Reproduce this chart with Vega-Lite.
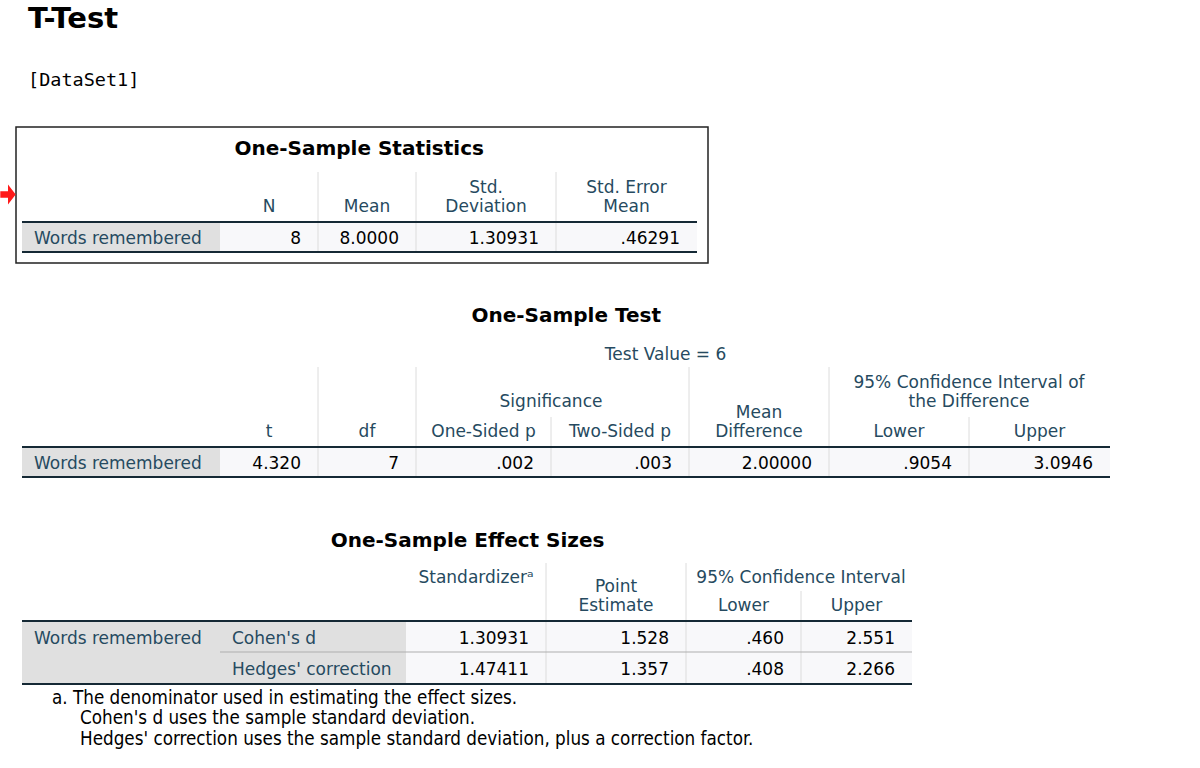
{
  "$schema": "https://vega.github.io/schema/vega-lite/v6.json",
  "width": 1200,
  "height": 768,
  "padding": 0,
  "autosize": {"type": "none"},
  "background": "#ffffff",
  "config": {"view": {"stroke": null}},
  "datasets": {
    "t1": [
      {"kind": "bgGray", "c": 0, "c2": 1, "r": 3, "r2": 4},
      {"kind": "bgLight", "c": 1, "c2": 5, "r": 3, "r2": 4},
      {"kind": "vsep", "c": 2, "r": 2, "r2": 4},
      {"kind": "vsep", "c": 3, "r": 2, "r2": 4},
      {"kind": "vsep", "c": 4, "r": 2, "r2": 4},
      {"kind": "hrule", "c": 0, "c2": 5, "r": 3},
      {"kind": "hrule", "c": 0, "c2": 5, "r": 4},
      {"kind": "box", "c": -1, "c2": 6, "r": 0, "r2": 5},
      {"kind": "arrow", "c": -1.5, "r": 2.45},
      {"kind": "pageTitle", "c": -1, "r": -2, "label": "T-Test"},
      {"kind": "dataset", "c": -1, "r": -1, "label": "[DataSet1]"},
      {"kind": "title", "c": 2.42, "r": 1, "label": "One-Sample Statistics"},
      {"kind": "hdr", "c": 1.5, "r": 3, "label": "N"},
      {"kind": "hdr", "c": 2.5, "r": 3, "label": "Mean"},
      {"kind": "hdr2", "c": 3.5, "r": 3, "label": "Std.\nDeviation"},
      {"kind": "hdr2", "c": 4.5, "r": 3, "label": "Std. Error\nMean"},
      {"kind": "rowh", "c": 0, "r": 3.5, "label": "Words remembered"},
      {"kind": "val", "c": 2, "r": 3.5, "label": "8"},
      {"kind": "val", "c": 3, "r": 3.5, "label": "8.0000"},
      {"kind": "val", "c": 4, "r": 3.5, "label": "1.30931"},
      {"kind": "val", "c": 5, "r": 3.5, "label": ".46291"}
    ],
    "t2": [
      {"kind": "bgGray", "c": 0, "c2": 1, "r": 4, "r2": 5},
      {"kind": "bgLight", "c": 1, "c2": 8, "r": 4, "r2": 5},
      {"kind": "vsep", "c": 2, "r": 2, "r2": 5},
      {"kind": "vsep", "c": 3, "r": 2, "r2": 5},
      {"kind": "vsep", "c": 4, "r": 3, "r2": 5},
      {"kind": "vsep", "c": 5, "r": 2, "r2": 5},
      {"kind": "vsep", "c": 6, "r": 2, "r2": 5},
      {"kind": "vsep", "c": 7, "r": 3, "r2": 5},
      {"kind": "hrule", "c": 0, "c2": 8, "r": 4},
      {"kind": "hrule", "c": 0, "c2": 8, "r": 5},
      {"kind": "title", "c": 4.11, "r": 0, "label": "One-Sample Test"},
      {"kind": "hdrMid", "c": 4.83, "r": 1, "label": "Test Value = 6"},
      {"kind": "hdr", "c": 1.5, "r": 4, "label": "t"},
      {"kind": "hdr", "c": 2.5, "r": 4, "label": "df"},
      {"kind": "hdr", "c": 3.5, "r": 4, "label": "One-Sided p"},
      {"kind": "hdr", "c": 4.5, "r": 4, "label": "Two-Sided p"},
      {"kind": "hdr2", "c": 5.5, "r": 4, "label": "Mean\nDifference"},
      {"kind": "hdr", "c": 6.5, "r": 4, "label": "Lower"},
      {"kind": "hdr", "c": 7.5, "r": 4, "label": "Upper"},
      {"kind": "hdr", "c": 4, "r": 3, "label": "Significance"},
      {"kind": "hdr2", "c": 7, "r": 3, "label": "95% Confidence Interval of\nthe Difference"},
      {"kind": "rowh", "c": 0, "r": 4.5, "label": "Words remembered"},
      {"kind": "val", "c": 2, "r": 4.5, "label": "4.320"},
      {"kind": "val", "c": 3, "r": 4.5, "label": "7"},
      {"kind": "val", "c": 4, "r": 4.5, "label": ".002"},
      {"kind": "val", "c": 5, "r": 4.5, "label": ".003"},
      {"kind": "val", "c": 6, "r": 4.5, "label": "2.00000"},
      {"kind": "val", "c": 7, "r": 4.5, "label": ".9054"},
      {"kind": "val", "c": 8, "r": 4.5, "label": "3.0946"}
    ],
    "t3": [
      {"kind": "bgGray", "c": 0, "c2": 2, "r": 3, "r2": 5},
      {"kind": "bgLight", "c": 2, "c2": 6, "r": 3, "r2": 5},
      {"kind": "vsep", "c": 3, "r": 1, "r2": 5},
      {"kind": "vsep", "c": 4, "r": 1, "r2": 5},
      {"kind": "vsep", "c": 5, "r": 2, "r2": 5},
      {"kind": "hlight", "c": 1, "c2": 6, "r": 4},
      {"kind": "hrule", "c": 0, "c2": 6, "r": 3},
      {"kind": "hrule", "c": 0, "c2": 6, "r": 5},
      {"kind": "title", "c": 2.44, "r": 0, "label": "One-Sample Effect Sizes"},
      {"kind": "hdrTop", "c": 2.5, "r": 1, "label": "Standardizerᵃ"},
      {"kind": "hdrTop", "c": 5, "r": 1, "label": "95% Confidence Interval"},
      {"kind": "hdr2", "c": 3.5, "r": 3, "label": "Point\nEstimate"},
      {"kind": "hdr", "c": 4.5, "r": 3, "label": "Lower"},
      {"kind": "hdr", "c": 5.5, "r": 3, "label": "Upper"},
      {"kind": "rowh", "c": 0, "r": 3.5, "label": "Words remembered"},
      {"kind": "rowh", "c": 1, "r": 3.5, "label": "Cohen's d"},
      {"kind": "rowh", "c": 1, "r": 4.5, "label": "Hedges' correction"},
      {"kind": "val", "c": 3, "r": 3.5, "label": "1.30931"},
      {"kind": "val", "c": 4, "r": 3.5, "label": "1.528"},
      {"kind": "val", "c": 5, "r": 3.5, "label": ".460"},
      {"kind": "val", "c": 6, "r": 3.5, "label": "2.551"},
      {"kind": "val", "c": 3, "r": 4.5, "label": "1.47411"},
      {"kind": "val", "c": 4, "r": 4.5, "label": "1.357"},
      {"kind": "val", "c": 5, "r": 4.5, "label": ".408"},
      {"kind": "val", "c": 6, "r": 4.5, "label": "2.266"},
      {"kind": "note1", "c": 0, "r": 6, "label": "a. The denominator used in estimating the effect sizes."},
      {"kind": "note2", "c": 0, "r": 7, "label": "Cohen's d uses the sample standard deviation."},
      {"kind": "note2", "c": 0, "r": 8, "label": "Hedges' correction uses the sample standard deviation, plus a correction factor."}
    ]
  },
  "layer": [
    {
      "data": {"name": "t1"},
      "encoding": {
        "x": {"field": "c", "type": "quantitative", "axis": null,
              "scale": {"domain": [-2, -1, 0, 1, 2, 3, 4, 5, 6], "range": [0, 16, 22, 220, 318, 416, 556, 697, 708], "nice": false, "zero": false}},
        "y": {"field": "r", "type": "quantitative", "axis": null,
              "scale": {"domain": [-2, -1, 0, 1, 2, 3, 4, 5], "range": [19, 80, 127, 148, 172, 222, 252, 263], "nice": false, "zero": false}}
      },
      "layer": [
        {"transform": [{"filter": "datum.kind === 'bgGray'"}], "mark": {"type": "rect", "fill": "#e0e0e0"}, "encoding": {"x2": {"field": "c2"}, "y2": {"field": "r2"}}},
        {"transform": [{"filter": "datum.kind === 'bgLight'"}], "mark": {"type": "rect", "fill": "#f8f8fa"}, "encoding": {"x2": {"field": "c2"}, "y2": {"field": "r2"}}},
        {"transform": [{"filter": "datum.kind === 'vsep'"}], "mark": {"type": "rule", "color": "#dcdcdc", "strokeWidth": 1}, "encoding": {"y2": {"field": "r2"}}},
        {"transform": [{"filter": "datum.kind === 'hrule'"}], "mark": {"type": "rule", "color": "#152935", "strokeWidth": 2}, "encoding": {"x2": {"field": "c2"}}},
        {"transform": [{"filter": "datum.kind === 'box'"}], "mark": {"type": "rect", "fill": null, "stroke": "#222222", "strokeWidth": 1.5}, "encoding": {"x2": {"field": "c2"}, "y2": {"field": "r2"}}},
        {"transform": [{"filter": "datum.kind === 'arrow'"}], "mark": {"type": "point", "shape": "M-0.7,-0.3L0,-0.3L0,-0.9L0.7,0L0,0.9L0,0.3L-0.7,0.3Z", "filled": true, "color": "#ff1a1a", "opacity": 1, "size": 484}},
        {"transform": [{"filter": "datum.kind === 'pageTitle'"}], "mark": {"type": "text", "align": "left", "baseline": "middle", "dx": 12, "font": "DejaVu Sans", "fontWeight": "bold", "fontSize": 29, "color": "#000000"}, "encoding": {"text": {"field": "label"}}},
        {"transform": [{"filter": "datum.kind === 'dataset'"}], "mark": {"type": "text", "align": "left", "baseline": "middle", "dx": 12, "font": "DejaVu Sans Mono", "fontSize": 18.5, "color": "#000000"}, "encoding": {"text": {"field": "label"}}},
        {"transform": [{"filter": "datum.kind === 'title'"}], "mark": {"type": "text", "align": "center", "baseline": "middle", "dy": 1, "font": "DejaVu Sans", "fontWeight": "bold", "fontSize": 20, "color": "#000000"}, "encoding": {"text": {"field": "label"}}},
        {"transform": [{"filter": "datum.kind === 'hdr'"}], "mark": {"type": "text", "align": "center", "baseline": "bottom", "dy": -6, "font": "DejaVu Sans", "fontSize": 17, "color": "#264a60"}, "encoding": {"text": {"field": "label"}}},
        {"transform": [{"filter": "datum.kind === 'hdr2'"}], "mark": {"type": "text", "align": "center", "baseline": "bottom", "dy": -25, "lineBreak": "\n", "lineHeight": 19, "font": "DejaVu Sans", "fontSize": 17, "color": "#264a60"}, "encoding": {"text": {"field": "label"}}},
        {"transform": [{"filter": "datum.kind === 'rowh'"}], "mark": {"type": "text", "align": "left", "baseline": "middle", "dx": 12, "dy": 2, "font": "DejaVu Sans", "fontSize": 17, "color": "#264a60"}, "encoding": {"text": {"field": "label"}}},
        {"transform": [{"filter": "datum.kind === 'val'"}], "mark": {"type": "text", "align": "right", "baseline": "middle", "dx": -17, "dy": 2, "font": "DejaVu Sans", "fontSize": 17, "color": "#000000"}, "encoding": {"text": {"field": "label"}}}
      ]
    },
    {
      "data": {"name": "t2"},
      "encoding": {
        "x": {"field": "c", "type": "quantitative", "axis": null,
              "scale": {"domain": [0, 1, 2, 3, 4, 5, 6, 7, 8], "range": [22, 220, 318, 416, 551, 689, 829, 969, 1110], "nice": false, "zero": false}},
        "y": {"field": "r", "type": "quantitative", "axis": null,
              "scale": {"domain": [0, 1, 2, 3, 4, 5], "range": [315, 353, 367, 417, 447, 477], "nice": false, "zero": false}}
      },
      "layer": [
        {"transform": [{"filter": "datum.kind === 'bgGray'"}], "mark": {"type": "rect", "fill": "#e0e0e0"}, "encoding": {"x2": {"field": "c2"}, "y2": {"field": "r2"}}},
        {"transform": [{"filter": "datum.kind === 'bgLight'"}], "mark": {"type": "rect", "fill": "#f8f8fa"}, "encoding": {"x2": {"field": "c2"}, "y2": {"field": "r2"}}},
        {"transform": [{"filter": "datum.kind === 'vsep'"}], "mark": {"type": "rule", "color": "#dcdcdc", "strokeWidth": 1}, "encoding": {"y2": {"field": "r2"}}},
        {"transform": [{"filter": "datum.kind === 'hrule'"}], "mark": {"type": "rule", "color": "#152935", "strokeWidth": 2}, "encoding": {"x2": {"field": "c2"}}},
        {"transform": [{"filter": "datum.kind === 'title'"}], "mark": {"type": "text", "align": "center", "baseline": "middle", "dy": 1, "font": "DejaVu Sans", "fontWeight": "bold", "fontSize": 20, "color": "#000000"}, "encoding": {"text": {"field": "label"}}},
        {"transform": [{"filter": "datum.kind === 'hdrMid'"}], "mark": {"type": "text", "align": "center", "baseline": "middle", "dy": 2, "font": "DejaVu Sans", "fontSize": 17, "color": "#264a60"}, "encoding": {"text": {"field": "label"}}},
        {"transform": [{"filter": "datum.kind === 'hdr'"}], "mark": {"type": "text", "align": "center", "baseline": "bottom", "dy": -6, "font": "DejaVu Sans", "fontSize": 17, "color": "#264a60"}, "encoding": {"text": {"field": "label"}}},
        {"transform": [{"filter": "datum.kind === 'hdr2'"}], "mark": {"type": "text", "align": "center", "baseline": "bottom", "dy": -25, "lineBreak": "\n", "lineHeight": 19, "font": "DejaVu Sans", "fontSize": 17, "color": "#264a60"}, "encoding": {"text": {"field": "label"}}},
        {"transform": [{"filter": "datum.kind === 'rowh'"}], "mark": {"type": "text", "align": "left", "baseline": "middle", "dx": 12, "dy": 2, "font": "DejaVu Sans", "fontSize": 17, "color": "#264a60"}, "encoding": {"text": {"field": "label"}}},
        {"transform": [{"filter": "datum.kind === 'val'"}], "mark": {"type": "text", "align": "right", "baseline": "middle", "dx": -17, "dy": 2, "font": "DejaVu Sans", "fontSize": 17, "color": "#000000"}, "encoding": {"text": {"field": "label"}}}
      ]
    },
    {
      "data": {"name": "t3"},
      "encoding": {
        "x": {"field": "c", "type": "quantitative", "axis": null,
              "scale": {"domain": [0, 1, 2, 3, 4, 5, 6], "range": [22, 220, 406, 546, 686, 801, 912], "nice": false, "zero": false}},
        "y": {"field": "r", "type": "quantitative", "axis": null,
              "scale": {"domain": [0, 1, 2, 3, 4, 5, 6, 7, 8], "range": [540, 563, 591, 621, 652, 684, 698, 718, 739], "nice": false, "zero": false}}
      },
      "layer": [
        {"transform": [{"filter": "datum.kind === 'bgGray'"}], "mark": {"type": "rect", "fill": "#e0e0e0"}, "encoding": {"x2": {"field": "c2"}, "y2": {"field": "r2"}}},
        {"transform": [{"filter": "datum.kind === 'bgLight'"}], "mark": {"type": "rect", "fill": "#f8f8fa"}, "encoding": {"x2": {"field": "c2"}, "y2": {"field": "r2"}}},
        {"transform": [{"filter": "datum.kind === 'vsep'"}], "mark": {"type": "rule", "color": "#dcdcdc", "strokeWidth": 1}, "encoding": {"y2": {"field": "r2"}}},
        {"transform": [{"filter": "datum.kind === 'hlight'"}], "mark": {"type": "rule", "color": "#aeaeae", "strokeWidth": 1}, "encoding": {"x2": {"field": "c2"}}},
        {"transform": [{"filter": "datum.kind === 'hrule'"}], "mark": {"type": "rule", "color": "#152935", "strokeWidth": 2}, "encoding": {"x2": {"field": "c2"}}},
        {"transform": [{"filter": "datum.kind === 'title'"}], "mark": {"type": "text", "align": "center", "baseline": "middle", "dy": 1, "font": "DejaVu Sans", "fontWeight": "bold", "fontSize": 20, "color": "#000000"}, "encoding": {"text": {"field": "label"}}},
        {"transform": [{"filter": "datum.kind === 'hdrTop'"}], "mark": {"type": "text", "align": "center", "baseline": "top", "dy": 7, "font": "DejaVu Sans", "fontSize": 17, "color": "#264a60"}, "encoding": {"text": {"field": "label"}}},
        {"transform": [{"filter": "datum.kind === 'hdr'"}], "mark": {"type": "text", "align": "center", "baseline": "bottom", "dy": -6, "font": "DejaVu Sans", "fontSize": 17, "color": "#264a60"}, "encoding": {"text": {"field": "label"}}},
        {"transform": [{"filter": "datum.kind === 'hdr2'"}], "mark": {"type": "text", "align": "center", "baseline": "bottom", "dy": -25, "lineBreak": "\n", "lineHeight": 19, "font": "DejaVu Sans", "fontSize": 17, "color": "#264a60"}, "encoding": {"text": {"field": "label"}}},
        {"transform": [{"filter": "datum.kind === 'rowh'"}], "mark": {"type": "text", "align": "left", "baseline": "middle", "dx": 12, "dy": 2, "font": "DejaVu Sans", "fontSize": 17, "color": "#264a60"}, "encoding": {"text": {"field": "label"}}},
        {"transform": [{"filter": "datum.kind === 'val'"}], "mark": {"type": "text", "align": "right", "baseline": "middle", "dx": -17, "dy": 2, "font": "DejaVu Sans", "fontSize": 17, "color": "#000000"}, "encoding": {"text": {"field": "label"}}},
        {"transform": [{"filter": "datum.kind === 'note1'"}], "mark": {"type": "text", "align": "left", "baseline": "middle", "dx": 30, "font": "Liberation Sans Narrow, DejaVu Sans Condensed, sans-serif", "fontSize": 18.7, "color": "#000000"}, "encoding": {"text": {"field": "label"}}},
        {"transform": [{"filter": "datum.kind === 'note2'"}], "mark": {"type": "text", "align": "left", "baseline": "middle", "dx": 58, "font": "Liberation Sans Narrow, DejaVu Sans Condensed, sans-serif", "fontSize": 18.7, "color": "#000000"}, "encoding": {"text": {"field": "label"}}}
      ]
    }
  ],
  "resolve": {"scale": {"x": "independent", "y": "independent"}}
}
